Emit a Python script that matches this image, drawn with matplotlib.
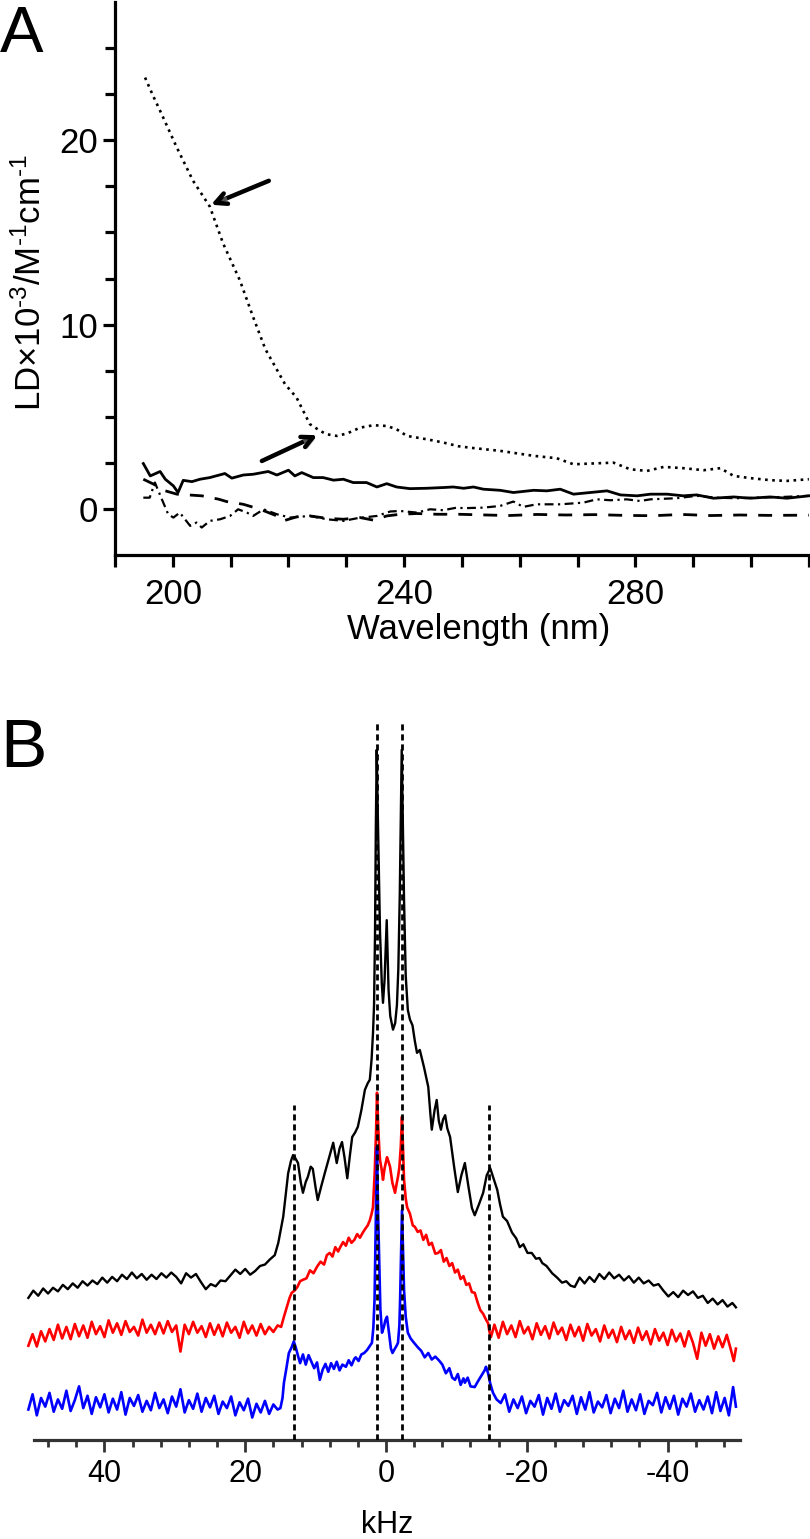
import matplotlib
matplotlib.use('Agg')
import matplotlib.pyplot as plt
import matplotlib.patheffects as pe
from matplotlib.ticker import FixedLocator

plt.rcParams['font.family'] = ['Liberation Sans', 'DejaVu Sans']
plt.rcParams['mathtext.fontset'] = 'custom'
plt.rcParams['mathtext.rm'] = 'Liberation Sans'
plt.rcParams['mathtext.it'] = 'Liberation Sans:italic'
plt.rcParams['mathtext.bf'] = 'Liberation Sans:bold'
plt.rcParams['axes.unicode_minus'] = False

# ---------------- Panel A data (wavelength nm, LD x10^-3) ----------------
solid_nm = [194.9, 196.1, 197.8, 198.7, 200.1, 200.9, 201.8, 203.3, 204.7, 206.4,
            209.0, 210.2, 212.2, 213.9, 216.5, 218.0, 220.0, 221.1, 222.3, 224.3,
            226.0, 227.8, 229.5, 231.2, 233.5, 235.3, 237.0, 238.7, 241.0, 243.9,
            246.8, 248.5, 250.3, 252.0, 253.7, 256.6, 258.9, 262.4, 264.7, 267.0,
            269.3, 272.2, 275.1, 277.4, 280.3, 282.6, 285.5, 288.3, 290.6, 293.5,
            297.0, 299.9, 303.3, 306.2, 310.0]
solid_ld = [2.46, 1.79, 2.03, 1.61, 1.25, 0.89, 1.55, 1.48, 1.61, 1.70,
            1.92, 1.67, 1.84, 1.88, 2.03, 1.84, 2.10, 1.79, 1.97, 1.70,
            1.70, 1.56, 1.61, 1.43, 1.43, 1.19, 1.37, 1.19, 1.10, 1.12,
            1.16, 1.19, 1.12, 1.19, 1.07, 1.01, 0.89, 1.01, 0.98, 1.07,
            0.80, 0.89, 0.98, 0.76, 0.71, 0.80, 0.80, 0.71, 0.76, 0.58,
            0.65, 0.58, 0.65, 0.58, 0.71]

dashed_nm = [194.9, 196.7, 198.5, 200.7, 205.0, 207.9, 209.3, 212.2, 215.1, 218.0,
             219.1, 221.4, 223.7, 226.6, 229.5, 232.4, 234.7, 237.0, 239.3, 242.2,
             245.7, 249.4, 253.0, 258.0, 263.0, 268.0, 273.0, 278.0, 283.0, 288.0,
             293.0, 298.0, 303.0, 310.0]
dashed_ld = [1.61, 1.34, 1.00, 0.80, 0.71, 0.53, 0.40, 0.25, -0.02, -0.38,
             -0.65, -0.43, -0.38, -0.51, -0.56, -0.47, -0.61, -0.38, -0.29, -0.25,
             -0.29, -0.29, -0.32, -0.36, -0.30, -0.33, -0.31, -0.35, -0.37, -0.30,
             -0.36, -0.33, -0.35, -0.34]

dashdot_nm = [194.9, 196.0, 196.9, 198.0, 199.2, 200.1, 201.2, 203.0, 204.1, 205.0,
              206.4, 208.2, 209.9, 211.3, 212.8, 213.9, 215.7, 218.0, 220.3, 223.7,
              226.6, 229.5, 231.8, 235.3, 237.6, 239.3, 242.2, 244.5, 246.8, 249.1,
              250.3, 253.7, 256.6, 258.9, 260.6, 262.9, 267.0, 271.0, 273.3, 275.7,
              278.5, 280.8, 282.6, 287.1, 290.6, 294.0, 297.5, 305.6, 310.0]
dashdot_ld = [0.61, 0.61, 1.43, 0.60, -0.29, -0.47, -0.20, -0.92, -0.74, -1.01,
              -0.65, -0.56, -0.38, -0.02, -0.20, -0.38, -0.02, -0.29, -0.47, -0.38,
              -0.56, -0.65, -0.51, -0.38, -0.14, -0.11, -0.20, -0.02, -0.07, 0.07,
              0.04, 0.07, 0.16, 0.40, 0.11, 0.25, 0.25, 0.34, 0.52, 0.47,
              0.52, 0.43, 0.52, 0.58, 0.71, 0.61, 0.58, 0.65, 0.71]

dotted_nm = [195.2, 196.6, 197.8, 200.7, 203.5, 206.4, 208.7, 211.6, 213.9, 216.0,
             219.4, 221.4, 223.7, 225.5, 226.6, 228.4, 230.1, 232.4, 234.7, 237.0,
             238.7, 240.5, 243.9, 246.8, 249.4, 252.0, 256.6, 262.4, 266.4, 269.3,
             272.2, 276.2, 279.1, 282.0, 284.9, 288.3, 291.8, 294.7, 297.0, 299.9,
             303.3, 306.2, 310.0]
dotted_ld = [23.4, 22.4, 21.6, 19.6, 17.8, 16.4, 14.4, 12.4, 10.4, 8.67,
             6.77, 6.04, 4.60, 4.23, 4.05, 3.96, 4.09, 4.41, 4.54, 4.50,
             4.32, 3.96, 3.78, 3.60, 3.40, 3.30, 3.15, 2.88, 2.75, 2.42,
             2.46, 2.51, 2.15, 2.06, 2.28, 2.21, 2.10, 2.21, 1.79, 1.67,
             1.56, 1.52, 1.61]

# arrows: (tail, tip) in data coords
arrows_A = [((216.6, 17.8), (206.6, 16.5)),
            ((215.4, 2.6), (225.0, 4.0))]

# ---------------- Panel B data (kHz, arbitrary intensity) ----------------
black_khz = [50.8, 50.1, 49.4, 48.7, 48.0, 47.3, 46.6, 45.9, 45.2, 44.5,
             43.8, 43.1, 42.4, 41.7, 41.0, 40.3, 39.6, 38.9, 38.2, 37.5,
             36.8, 36.1, 35.4, 34.7, 34.0, 33.3, 32.6, 31.9, 31.2, 30.5,
             29.8, 29.1, 28.4, 27.7, 27.0, 26.3, 25.6, 24.9, 24.2, 23.5,
             22.8, 22.1, 21.4, 20.7, 20.0, 19.3, 18.6, 17.9, 17.2, 16.5,
             15.8, 15.3, 14.6, 13.9, 13.5, 13.2, 12.9, 12.5, 12.1, 11.8,
             11.4, 11.1, 10.7, 10.4, 10.0, 9.7, 9.2, 8.7, 8.1, 7.5,
             7.0, 6.6, 6.25, 5.9, 5.5, 5.1, 4.8, 4.4, 4.0, 3.5,
             3.0, 2.6, 2.3, 2.05, 1.85, 1.7, 1.56, 1.45, 1.32, 1.2,
             1.05, 0.85, 0.6, 0.43, 0.21, -0.1, -0.36, -0.6, -0.99, -1.3,
             -1.55, -1.75, -1.95, -2.1, -2.23, -2.4, -2.56, -2.8, -3.1, -3.4,
             -3.76, -4.1, -4.4, -4.8, -5.4, -6.0, -6.3, -6.5, -6.9, -7.2,
             -7.5, -7.8, -8.1, -8.4, -8.7, -9.1, -9.7, -10.2, -10.7, -11.2,
             -11.7, -12.2, -12.6, -13.2, -13.8, -14.3, -14.8, -15.3, -15.8, -16.2,
             -16.6, -17.2, -17.9, -18.5, -19.0, -19.5, -20.1, -20.7, -21.3, -21.8,
             -22.2, -22.8, -23.6, -24.3, -25.0, -25.6, -26.2, -26.8, -27.5, -28.2,
             -28.9, -29.6, -30.3, -31.0, -31.7, -32.4, -33.1, -33.8, -34.5, -35.2,
             -35.9, -36.6, -37.3, -38.0, -38.7, -39.4, -40.1, -40.8, -41.5, -42.2,
             -42.9, -43.6, -44.3, -45.0, -45.7, -46.4, -47.1, -47.8, -48.5, -49.2,
             -49.7]
black_int = [19.6, 20.6, 19.9, 20.9, 20.2, 21.0, 20.5, 21.4, 20.8, 21.6,
             21.0, 21.9, 21.3, 22.0, 21.5, 22.4, 21.7, 22.5, 21.9, 22.8,
             22.2, 23.1, 22.3, 22.9, 22.1, 22.8, 22.2, 23.0, 22.4, 23.1,
             22.5, 21.6, 23.0, 22.4, 22.9, 21.8, 20.8, 21.5, 21.2, 22.0,
             21.9, 22.7, 23.5, 22.9, 23.6, 22.8, 23.3, 24.0, 24.2, 24.9,
             25.5, 27.2, 30.8, 36.8, 38.5, 39.3, 38.9, 38.2, 35.5, 34.1,
             35.6, 36.3, 37.7, 37.4, 34.8, 33.1, 35.0, 36.8, 38.9, 41.0,
             38.2, 40.2, 41.1, 39.0, 36.1, 39.5, 41.8, 42.4, 43.2, 45.5,
             48.3, 49.2, 49.7, 52.5, 56.1, 60.0, 70.0, 84.0, 95.2, 88.0,
             80.0, 70.0, 63.0, 60.3, 63.4, 71.7, 62.1, 58.5, 56.6, 57.5,
             60.0, 65.0, 75.0, 86.0, 95.2, 85.0, 74.5, 64.0, 59.3, 58.0,
             57.2, 55.0, 53.4, 53.8, 51.4, 48.7, 45.0, 42.8, 45.5, 46.9,
             44.0, 42.8, 44.2, 44.8, 43.0, 41.8, 37.5, 34.2, 36.5, 38.2,
             35.0, 32.0, 31.0, 32.5, 34.1, 36.5, 37.5, 36.0, 34.5, 32.5,
             30.8, 30.2, 28.6, 27.8, 26.6, 27.0, 25.8, 25.8, 25.0, 25.1,
             24.4, 24.0, 23.0, 22.4, 21.7, 21.9, 21.3, 21.1, 22.4, 21.6,
             22.5, 21.8, 22.9, 22.2, 23.1, 22.3, 22.8, 22.0, 22.6, 21.7,
             22.4, 21.6, 22.0, 21.3, 21.5, 20.6, 19.8, 20.4, 19.7, 20.6,
             20.0, 20.5, 19.6, 19.9, 18.9, 19.5, 18.7, 19.3, 18.4, 18.9,
             18.3]

red_khz = [50.8, 50.2, 49.6, 49.0, 48.4, 47.8, 47.2, 46.6, 46.0, 45.4,
           44.8, 44.2, 43.6, 43.0, 42.4, 41.8, 41.2, 40.6, 40.0, 39.4,
           38.8, 38.2, 37.6, 37.0, 36.4, 35.8, 35.2, 34.6, 34.0, 33.4,
           32.8, 32.2, 31.6, 31.0, 30.4, 29.8, 29.2, 28.6, 28.0, 27.4,
           26.8, 26.2, 25.6, 25.0, 24.4, 23.8, 23.2, 22.6, 22.0, 21.4,
           20.8, 20.2, 19.6, 19.0, 18.4, 17.8, 17.2, 16.6, 16.0, 15.4,
           14.9, 14.5, 14.1, 13.7, 13.4, 13.0, 12.6, 12.2, 11.8, 11.3,
           10.8, 10.3, 9.8, 9.3, 8.8, 8.4, 8.0, 7.6, 7.2, 6.8,
           6.5, 6.1, 5.7, 5.3, 4.9, 4.5, 4.1, 3.7, 3.3, 2.9,
           2.6, 2.3, 2.05, 1.85, 1.6, 1.42, 1.28, 1.1, 0.95, 0.85,
           0.6, 0.43, 0.2, -0.14, -0.35, -0.57, -0.9, -1.28, -1.5, -1.7,
           -1.9, -2.1, -2.27, -2.45, -2.56, -2.8, -3.0, -3.4, -3.8, -4.1,
           -4.5, -4.9, -5.3, -5.7, -6.1, -6.5, -7.0, -7.4, -7.8, -8.2,
           -8.6, -9.0, -9.4, -9.8, -10.2, -10.6, -11.0, -11.4, -11.8, -12.2,
           -12.6, -13.0, -13.4, -13.8, -14.2, -14.5, -14.7, -14.9,
           -15.4, -16.0, -16.6, -17.2, -17.8, -18.4, -19.0, -19.6, -20.2, -20.8,
           -21.4, -22.0, -22.6, -23.2, -23.8, -24.4, -25.0, -25.6, -26.2, -26.8,
           -27.4, -28.0, -28.6, -29.2, -29.8, -30.4, -31.0, -31.6, -32.2, -32.8,
           -33.4, -34.0, -34.6, -35.2, -35.8, -36.4, -37.0, -37.6, -38.2, -38.8,
           -39.4, -40.0, -40.6, -41.2, -41.8, -42.4, -43.0, -43.6, -44.2, -44.8,
           -45.4, -46.0, -46.6, -47.2, -47.8, -48.4, -49.0, -49.4, -49.7]
red_int = [13.0, 14.6, 12.9, 15.0, 13.6, 15.3, 13.8, 15.9, 14.0, 15.6,
           13.9, 16.0, 14.3, 15.8, 14.1, 16.3, 14.6, 15.7, 14.2, 16.5,
           14.8, 16.1, 14.5, 16.4, 14.9, 15.6, 14.4, 16.6, 14.8, 15.9,
           14.6, 16.2, 14.7, 16.4, 14.9, 15.8, 12.2, 15.9, 14.6, 16.3,
           14.8, 15.7, 14.2, 16.1, 14.5, 15.9, 14.3, 16.2, 14.8, 15.6,
           14.1, 16.3, 14.7, 15.8, 14.4, 16.0, 14.6, 15.6, 14.9, 15.8,
           15.6, 17.0, 18.3, 19.6, 20.3, 20.6, 21.1, 21.9, 22.1, 22.3,
           23.4, 23.0, 23.9, 24.6, 24.2, 25.5, 25.8, 25.3, 26.6, 26.0,
           26.6, 27.3, 26.8, 27.9, 27.2, 27.6, 28.4, 27.9, 28.6, 29.2,
           29.6, 30.3, 31.2, 32.1, 37.0, 42.3, 47.9, 43.0, 40.0, 38.6,
           37.2, 35.9, 37.5, 39.0, 38.4, 37.7, 35.5, 34.1, 35.3, 36.3,
           37.6, 40.5, 44.6, 39.0, 35.9, 33.3, 32.1, 31.2, 29.6, 29.4,
           28.7, 28.9, 27.6, 28.3, 26.9, 27.2, 25.7, 25.8, 26.2, 24.6,
           25.1, 24.0, 24.4, 23.1, 23.5, 22.2, 22.6, 21.4, 21.6, 20.4,
           20.3, 19.0, 17.9, 17.4, 16.6, 16.1, 14.9, 14.2,
           15.9, 14.1, 16.3, 14.6, 15.8, 14.2, 16.4, 14.7, 15.6, 13.9,
           16.1, 14.5, 15.7, 14.0, 16.2, 14.6, 15.5, 13.8, 15.9, 14.3,
           15.6, 13.7, 16.0, 14.4, 15.3, 13.6, 15.8, 14.1, 15.2, 13.5,
           15.6, 13.9, 15.1, 13.4, 15.5, 13.8, 15.0, 13.2, 15.3, 13.7,
           14.8, 13.1, 15.2, 13.6, 14.7, 12.9, 15.0, 13.4, 11.2, 14.8,
           13.0, 14.6, 12.6, 14.3, 12.8, 14.5, 12.4, 10.9, 12.6]

blue_khz = [50.8, 50.2, 49.6, 49.0, 48.4, 47.8, 47.2, 46.6, 46.0, 45.4,
            44.8, 44.2, 43.6, 43.0, 42.4, 41.8, 41.2, 40.6, 40.0, 39.4,
            38.8, 38.2, 37.6, 37.0, 36.4, 35.8, 35.2, 34.6, 34.0, 33.4,
            32.8, 32.2, 31.6, 31.0, 30.4, 29.8, 29.2, 28.6, 28.0, 27.4,
            26.8, 26.2, 25.6, 25.0, 24.4, 23.8, 23.2, 22.6, 22.0, 21.4,
            20.8, 20.2, 19.6, 19.0, 18.4, 17.8, 17.2, 16.6, 16.0, 15.4,
            15.0, 14.7, 14.5, 14.2, 13.8, 13.4, 13.1, 12.8, 12.5, 12.2,
            11.8, 11.4, 11.0, 10.6, 10.2, 9.8, 9.4, 9.0, 8.6, 8.2,
            7.8, 7.4, 7.0, 6.6, 6.2, 5.7, 5.3, 4.9, 4.5, 4.3,
            3.9, 3.5, 3.1, 2.7, 2.35, 2.0, 1.8, 1.63, 1.45, 1.28,
            1.12, 1.0, 0.8, 0.57, 0.3, 0.1, -0.14, -0.4, -0.7, -0.92,
            -1.2, -1.5, -1.7, -1.9, -2.0, -2.15, -2.27, -2.4, -2.56, -2.8,
            -3.1, -3.5, -3.9, -4.5, -5.0, -5.5, -6.0, -6.5, -7.0, -7.5,
            -8.0, -8.5, -9.0, -9.4, -9.8, -10.2, -10.6, -11.0, -11.2, -11.6,
            -12.0, -12.6, -13.0, -13.5, -14.0, -14.2, -14.5, -14.8, -15.2, -15.7,
            -16.3,
            -16.9, -17.5, -18.1, -18.7, -19.3, -19.9, -20.5, -21.1, -21.7, -22.3,
            -22.9, -23.5, -24.1, -24.7, -25.3, -25.9, -26.5, -27.1, -27.7, -28.3,
            -28.9, -29.5, -30.1, -30.7, -31.3, -31.9, -32.5, -33.1, -33.7, -34.3,
            -34.9, -35.5, -36.1, -36.7, -37.3, -37.9, -38.5, -39.1, -39.7, -40.3,
            -40.9, -41.5, -42.1, -42.7, -43.3, -43.9, -44.5, -45.1, -45.7, -46.3,
            -46.9, -47.5, -48.1, -48.7, -49.3, -49.7]
blue_int = [4.2, 6.3, 3.4, 5.8, 4.6, 6.5, 3.9, 5.6, 4.3, 6.8,
            4.0, 5.5, 7.4, 4.4, 6.1, 3.6, 5.9, 4.5, 6.3, 3.8,
            5.7, 4.2, 6.6, 3.5, 5.8, 4.7, 6.2, 3.9, 5.4, 4.1,
            6.5, 4.4, 5.6, 3.7, 6.0, 4.6, 7.0, 3.8, 5.5, 4.3,
            6.4, 3.9, 5.8, 4.5, 6.1, 3.6, 5.3, 4.4, 6.0, 3.4,
            5.2, 4.1, 5.7, 3.1, 5.0, 3.8, 5.4, 3.6, 4.9, 4.2,
            4.4, 5.8, 7.9, 9.6, 12.0, 12.8, 13.6, 12.7, 11.6, 10.6,
            11.8, 10.4, 11.7, 10.8, 9.9, 10.7, 8.3, 9.7, 10.5, 9.4,
            10.6, 9.8, 10.8, 9.6, 10.4, 10.1, 11.0, 10.3, 11.2, 11.4,
            10.9, 11.8, 12.0, 12.4, 12.9, 13.4, 15.5, 19.3, 30.0, 40.4,
            31.0, 26.2, 18.0, 14.8, 15.6, 16.5, 17.0, 14.9, 12.6, 12.0,
            12.5, 13.0, 13.4, 15.8, 19.3, 26.0, 31.7, 27.0, 20.7, 17.0,
            14.8, 14.0, 13.5, 12.8, 12.3, 11.4, 12.0, 11.1, 11.5, 11.0,
            10.4, 9.2, 9.9, 8.6, 8.3, 9.1, 7.6, 8.5, 7.9, 8.6,
            7.4, 7.3, 8.0, 8.8, 9.6, 10.1, 9.2, 7.8, 6.5, 5.6,
            5.1,
            6.3, 3.9, 5.6, 4.4, 6.0, 3.7, 5.4, 4.6, 6.2, 3.5,
            5.8, 4.3, 6.4, 3.9, 5.5, 4.7, 6.1, 3.6, 5.9, 4.2,
            6.6, 3.8, 5.3, 4.5, 6.2, 3.7, 5.7, 4.4, 6.8, 3.9,
            5.6, 4.1, 6.3, 3.6, 5.4, 4.8, 6.5, 3.8, 5.9, 4.3,
            6.1, 3.5, 5.7, 4.6, 6.4, 3.9, 5.5, 4.2, 6.0, 3.7,
            6.6, 4.0, 5.8, 3.4, 7.3, 4.6]

# reference (dashed) lines in panel B: positions and heights
ref_khz = [13.1, 1.3, -2.3, -14.6]
ref_top = [46.2, 99.3, 99.3, 46.2]

W, H = 810, 1539
fig = plt.figure(figsize=(W / 100, H / 100), dpi=100)

# ================= Panel A =================
axA = fig.add_axes([115 / W, (H - 555) / H, (W - 115) / W, (555 - 2) / H])
axA.plot(solid_nm, solid_ld, color='black', lw=2.0, solid_joinstyle='round')
axA.plot(dashed_nm, dashed_ld, color='black', lw=2.0, linestyle=(0, (5, 4)))
axA.plot(dashdot_nm, dashdot_ld, color='black', lw=1.6, linestyle=(0, (4, 2, 1, 2)))
axA.plot(dotted_nm, dotted_ld, color='black', lw=1.9, linestyle=(0, (1, 1.7)))

shadow = [pe.withSimplePatchShadow(offset=(1.5, -1.5), shadow_rgbFace='0.55', alpha=0.6)]
for tail, tip in arrows_A:
    axA.annotate('', xy=tip, xytext=tail,
                 arrowprops=dict(arrowstyle='->,head_length=0.8,head_width=0.4',
                                 lw=3.2, color='black', shrinkA=0, shrinkB=0,
                                 path_effects=shadow))

axA.set_xlim(190, 310.2)
axA.set_ylim(-2.5, 27.5)
for s in ('top', 'right'):
    axA.spines[s].set_visible(False)
for s in ('left', 'bottom'):
    axA.spines[s].set_linewidth(2.3)
axA.xaxis.set_major_locator(FixedLocator([200, 240, 280]))
axA.xaxis.set_minor_locator(FixedLocator([190, 210, 220, 230, 250, 260, 270, 290, 300, 310]))
axA.yaxis.set_major_locator(FixedLocator([0, 10, 20]))
axA.yaxis.set_minor_locator(FixedLocator([2.5, 5, 7.5, 12.5, 15, 17.5, 22.5, 25]))
axA.tick_params(axis='both', which='both', direction='out', width=2.3, length=8.5,
                labelsize=25)
axA.tick_params(axis='x', which='major', pad=8)
axA.tick_params(axis='y', which='major', pad=4)
axA.tick_params(axis='y', which='minor', length=7.5)

fig.text(479 / W, (H - 630) / H, 'Wavelength (nm)', fontsize=25, ha='center', va='center')
fig.text(31 / W, (H - 283) / H, r'LD$\times$10$^{\text{-3}}$/M$^{\text{-1}}$cm$^{\text{-1}}$',
         fontsize=25, rotation=90, ha='center', va='center')
fig.text(0.0, (H - 52) / H, 'A', fontsize=47, ha='left', va='baseline')

# ================= Panel B =================
axB = fig.add_axes([34 / W, (H - 1440) / H, (740 - 34) / W, (1440 - 715) / H])
axB.plot(black_khz, black_int, color='black', lw=1.7, clip_on=False)
axB.plot(red_khz, red_int, color='#ff0000', lw=1.9, clip_on=False)
axB.plot(blue_khz, blue_int, color='#0000ff', lw=1.9, clip_on=False)
axB.vlines(ref_khz, 0, ref_top, colors='black', linestyles=(0, (2.2, 1.4)), lw=2.0, zorder=4)

axB.set_xlim(50.0, -50.28)
axB.set_ylim(0, 100)
for s in ('top', 'right', 'left'):
    axB.spines[s].set_visible(False)
axB.spines['bottom'].set_linewidth(2.3)
axB.spines['bottom'].set_color('#333333')
axB.set_yticks([])
axB.xaxis.set_major_locator(FixedLocator([40, 20, 0, -20, -40]))
axB.xaxis.set_minor_locator(FixedLocator([48, 44, 36, 32, 28, 24, 16, 12, 8, 4,
                                          -4, -8, -12, -16, -24, -28, -32, -36, -44, -48]))
axB.tick_params(axis='x', which='major', direction='out', length=8.5, width=2.0,
                color='#333333', labelsize=22, pad=5)
axB.tick_params(axis='x', which='minor', direction='out', length=5, width=2.0,
                color='#333333')
fig.text(387 / W, (H - 1525) / H, 'kHz', fontsize=22, ha='center', va='center')
fig.text(0.0, (H - 767) / H, 'B', fontsize=50, ha='left', va='baseline')

fig.savefig('out.png', dpi=100)
